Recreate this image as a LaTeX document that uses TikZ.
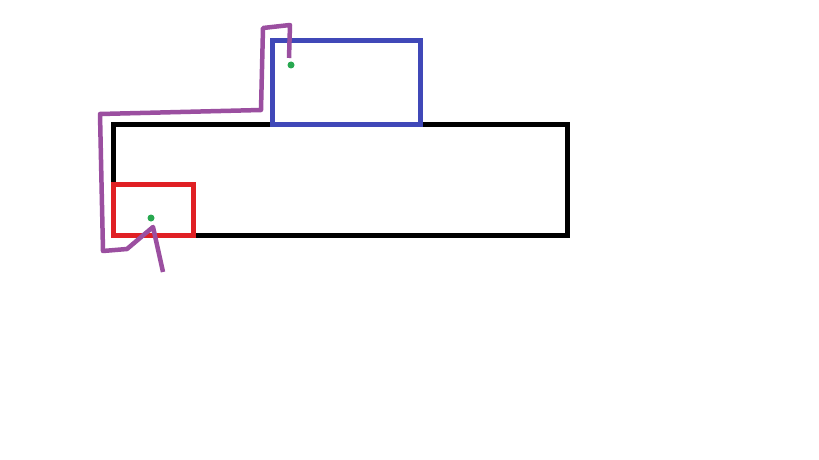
\documentclass[tikz,border=0pt]{standalone}
\begin{document}
\begin{tikzpicture}[x=1pt,y=-1pt,
  box/.style={draw, line width=5pt, inner sep=0pt, fill=none, line join=miter, minimum width=#1},
  dot/.style={circle, fill=dotgreen, inner sep=0pt, minimum size=7pt},
  scribble/.style={draw=scribblepurple, line width=4.5pt, line join=round, line cap=butt}]
\definecolor{boxblue}{RGB}{64,72,184}
\definecolor{boxred}{RGB}{224,32,36}
\definecolor{dotgreen}{RGB}{40,168,80}
\definecolor{scribblepurple}{RGB}{155,79,160}
\useasboundingbox[fill=white] (0,0) rectangle (819,460);
\node[box=454pt, minimum height=111pt, draw=black] (main) at (340,179.5) {};
\node[box=148pt, minimum height=83pt, draw=boxblue] (top) at (346,82.5) {};
\node[box=80pt, minimum height=51pt, draw=boxred] (small) at (153,209.5) {};
\node[dot] (dtop) at (291,65) {};
\node[dot] (dsmall) at (151,218) {};
\coordinate (p0) at (289,58);
\coordinate (p1) at (290,25);
\coordinate (p2) at (263,28);
\coordinate (p3) at (261,110);
\coordinate (p4) at (100,114);
\coordinate (p5) at (103,251);
\coordinate (p6) at (127,249);
\coordinate (p7) at (153,227);
\coordinate (p8) at (163,272);
\draw[scribble] (p0) -- (p1) -- (p2) -- (p3) -- (p4) -- (p5) -- (p6) -- (p7) -- (p8);
\end{tikzpicture}
\end{document}
